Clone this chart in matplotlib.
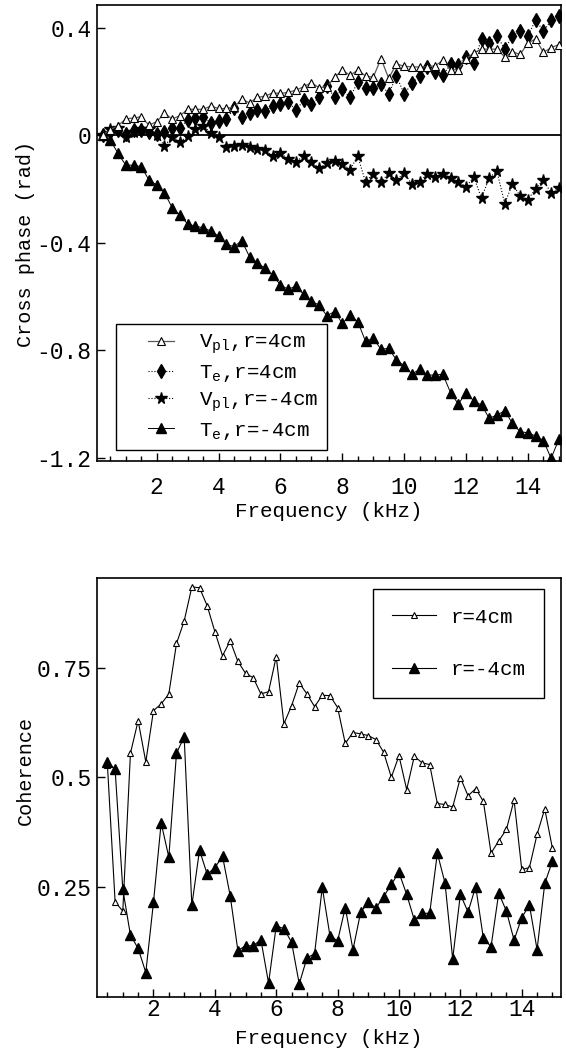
import matplotlib
matplotlib.use("Agg")
import matplotlib.pyplot as plt
from matplotlib.lines import Line2D
from matplotlib.legend_handler import HandlerLine2D
from matplotlib.ticker import MultipleLocator

plt.rcParams['font.family'] = ['Liberation Mono', 'DejaVu Sans Mono']
plt.rcParams['mathtext.fontset'] = 'custom'
plt.rcParams['mathtext.rm'] = 'Liberation Mono'
plt.rcParams['mathtext.it'] = 'Liberation Mono'

# frequency grids (kHz)
freq_top = [0.25, 0.5, 0.75, 1.0, 1.25, 1.5, 1.75, 2.0, 2.25, 2.5, 2.75, 3.0,
            3.25, 3.5, 3.75, 4.0, 4.25, 4.5, 4.75, 5.0, 5.25, 5.5, 5.75, 6.0,
            6.25, 6.5, 6.75, 7.0, 7.25, 7.5, 7.75, 8.0, 8.25, 8.5, 8.75, 9.0,
            9.25, 9.5, 9.75, 10.0, 10.25, 10.5, 10.75, 11.0, 11.25, 11.5, 11.75, 12.0,
            12.25, 12.5, 12.75, 13.0, 13.25, 13.5, 13.75, 14.0, 14.25, 14.5, 14.75, 15.0]
freq_bot = freq_top[1:]

# cross phase (rad)
vpl_pos = [0.0, 0.02, 0.035, 0.060, 0.064, 0.068, 0.037, 0.050, 0.081, 0.060, 0.072, 0.096,
           0.096, 0.096, 0.108, 0.099, 0.099, 0.105, 0.133, 0.120, 0.140, 0.145, 0.157, 0.155,
           0.159, 0.167, 0.180, 0.195, 0.176, 0.180, 0.215, 0.242, 0.222, 0.242, 0.220, 0.215,
           0.285, 0.211, 0.265, 0.256, 0.254, 0.253, 0.254, 0.258, 0.278, 0.242, 0.244, 0.284,
           0.306, 0.320, 0.320, 0.320, 0.291, 0.310, 0.300, 0.343, 0.358, 0.308, 0.325, 0.337]
te_pos = [0.0, 0.01, 0.02, 0.005, 0.02, 0.02, 0.01, 0.005, 0.01, 0.025, 0.025, 0.057,
          0.062, 0.068, 0.046, 0.053, 0.059, 0.099, 0.068, 0.082, 0.095, 0.089, 0.108, 0.117,
          0.122, 0.093, 0.129, 0.115, 0.140, 0.183, 0.140, 0.170, 0.140, 0.198, 0.174, 0.174,
          0.190, 0.153, 0.220, 0.153, 0.192, 0.220, 0.254, 0.236, 0.223, 0.263, 0.262, 0.290,
          0.270, 0.358, 0.342, 0.370, 0.320, 0.369, 0.388, 0.367, 0.430, 0.386, 0.427, 0.442]
vpl_neg = [0.0, 0.022, 0.025, -0.008, 0.012, 0.023, 0.022, 0.002, -0.041, -0.006, -0.025, -0.004,
           0.021, 0.033, 0.009, -0.009, -0.043, -0.041, -0.037, -0.043, -0.050, -0.056, -0.078, -0.066,
           -0.090, -0.099, -0.078, -0.099, -0.124, -0.104, -0.098, -0.106, -0.129, -0.078, -0.175, -0.143,
           -0.175, -0.142, -0.167, -0.142, -0.182, -0.173, -0.145, -0.155, -0.145, -0.159, -0.175, -0.192,
           -0.156, -0.235, -0.158, -0.135, -0.255, -0.182, -0.227, -0.240, -0.200, -0.166, -0.217, -0.197]
te_neg = [0.0, -0.019, -0.068, -0.112, -0.112, -0.118, -0.167, -0.186, -0.215, -0.270, -0.298, -0.331,
          -0.339, -0.345, -0.357, -0.376, -0.407, -0.415, -0.393, -0.453, -0.475, -0.496, -0.521, -0.558,
          -0.574, -0.562, -0.593, -0.618, -0.633, -0.672, -0.657, -0.701, -0.670, -0.695, -0.767, -0.757,
          -0.797, -0.794, -0.837, -0.858, -0.889, -0.872, -0.893, -0.893, -0.890, -0.959, -1.001, -0.959,
          -0.989, -1.005, -1.054, -1.042, -1.026, -1.073, -1.104, -1.108, -1.120, -1.137, -1.203, -1.132]

# coherence
coh_pos = [0.527, 0.216, 0.195, 0.555, 0.629, 0.535, 0.652, 0.667, 0.690, 0.805, 0.856, 0.934,
           0.932, 0.891, 0.832, 0.777, 0.811, 0.764, 0.737, 0.727, 0.690, 0.695, 0.775, 0.622,
           0.663, 0.715, 0.690, 0.661, 0.687, 0.686, 0.659, 0.577, 0.602, 0.599, 0.595, 0.586,
           0.557, 0.500, 0.549, 0.472, 0.548, 0.533, 0.529, 0.440, 0.438, 0.432, 0.499, 0.458,
           0.474, 0.445, 0.327, 0.355, 0.381, 0.448, 0.290, 0.294, 0.370, 0.428, 0.338]
coh_neg = [0.535, 0.518, 0.245, 0.140, 0.110, 0.055, 0.215, 0.396, 0.318, 0.555, 0.592, 0.208,
           0.334, 0.279, 0.294, 0.320, 0.230, 0.105, 0.116, 0.116, 0.130, 0.031, 0.161, 0.155,
           0.124, 0.029, 0.088, 0.098, 0.249, 0.139, 0.127, 0.203, 0.107, 0.192, 0.216, 0.202,
           0.228, 0.256, 0.283, 0.233, 0.175, 0.190, 0.190, 0.327, 0.259, 0.086, 0.233, 0.193,
           0.251, 0.133, 0.114, 0.236, 0.195, 0.129, 0.180, 0.209, 0.107, 0.258, 0.309]

top_labels = [r'V$_{\rm pl}$,r=4cm', r'T$_{\rm e}$,r=4cm',
              r'V$_{\rm pl}$,r=-4cm', r'T$_{\rm e}$,r=-4cm']
bot_labels = ['r=4cm', 'r=-4cm']


def style_axes(ax, xpad):
    for s in ax.spines.values():
        s.set_linewidth(1.2)
    ax.tick_params(direction='in', which='both', top=False, right=False,
                   labelsize=16.5, width=1.0)
    ax.tick_params(axis='x', pad=xpad)
    ax.tick_params(axis='y', pad=4)
    ax.tick_params(which='major', length=6)
    ax.tick_params(which='minor', length=3.5)
    ax.xaxis.set_major_locator(MultipleLocator(2))
    ax.xaxis.set_minor_locator(MultipleLocator(0.5))


fig = plt.figure(figsize=(5.66, 10.48), dpi=100)

# ---- cross phase ----
ax1 = fig.add_axes([0.1714, 0.5601, 0.8198, 0.4351])
ax1.axhline(0, color='black', lw=1.3, zorder=1)
ax1.plot(freq_top, te_neg, color='black', lw=0.7, marker='^', ms=7.2,
         mfc='black', mec='black', label=top_labels[3], zorder=3)
ax1.plot(freq_top, vpl_neg, color='black', lw=0.8, ls=':', marker='*', ms=8.5,
         mfc='black', mec='black', label=top_labels[2], zorder=3)
ax1.plot(freq_top, te_pos, color='black', lw=0.8, ls=':', marker='d', ms=6.8,
         mfc='black', mec='black', label=top_labels[1], zorder=3)
ax1.plot(freq_top, vpl_pos, color='0.35', lw=0.9, marker='^', ms=5.8,
         mfc='white', mec='black', mew=0.8, label=top_labels[0], zorder=4)
ax1.set_xlim(0.07, 15.07)
ax1.set_ylim(-1.213, 0.484)
ax1.set_yticks([-1.2, -0.8, -0.4, 0, 0.4])
ax1.set_yticklabels(['-1.2', '-0.8', '-0.4', '0', '0.4'])
style_axes(ax1, 11)
ax1.set_xlabel('Frequency (kHz)', fontsize=15, labelpad=2)
ax1.set_ylabel('Cross phase (rad)', fontsize=14.5)
ax1.yaxis.set_label_coords(-0.133, 0.475)

h, l = ax1.get_legend_handles_labels()
order = [3, 2, 1, 0]
leg1 = ax1.legend([h[i] for i in order], [l[i] for i in order],
                  loc='lower left', bbox_to_anchor=(0.041, 0.024),
                  borderaxespad=0, fontsize=15, frameon=True, fancybox=False,
                  edgecolor='black', framealpha=1, handlelength=2.4,
                  handletextpad=1.2, labelspacing=0.32, borderpad=0.4,
                  numpoints=1, handler_map={Line2D: HandlerLine2D(xpad=1.15)})
leg1.get_frame().set_linewidth(1.0)

# ---- coherence ----
ax2 = fig.add_axes([0.1714, 0.0490, 0.8198, 0.3998])
ax2.plot(freq_bot, coh_pos, color='black', lw=0.8, marker='^', ms=5,
         mfc='white', mec='black', mew=0.8, label=bot_labels[0], zorder=3)
ax2.plot(freq_bot, coh_neg, color='black', lw=0.8, marker='^', ms=6.8,
         mfc='black', mec='black', label=bot_labels[1], zorder=3)
ax2.set_xlim(0.16, 15.28)
ax2.set_ylim(0.0, 0.955)
ax2.set_yticks([0.25, 0.5, 0.75])
ax2.set_yticklabels(['0.25', '0.5', '0.75'])
style_axes(ax2, 1)
ax2.set_xlabel('Frequency (kHz)', fontsize=15, labelpad=6)
ax2.set_ylabel('Coherence', fontsize=14.5)
ax2.yaxis.set_label_coords(-0.133, 0.54)
leg2 = ax2.legend(loc='upper right', bbox_to_anchor=(0.963, 0.973),
                  borderaxespad=0, fontsize=15, frameon=True, fancybox=False,
                  edgecolor='black', framealpha=1, handlelength=2.1,
                  handletextpad=0.7, labelspacing=1.6, borderpad=0.9,
                  numpoints=1)
leg2.get_frame().set_linewidth(1.0)

fig.savefig('out.png', dpi=100)
